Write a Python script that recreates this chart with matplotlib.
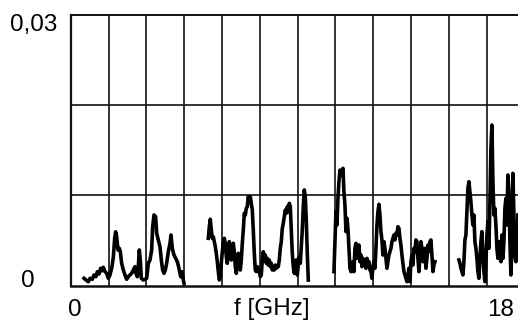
import numpy as np
import matplotlib
matplotlib.use("Agg")
import matplotlib.pyplot as plt

plt.rcParams['font.family'] = ['Liberation Sans', 'DejaVu Sans']

# ---- data (frequency in GHz, amplitude in units of 1e-3) ----
seg1_f = [0.563, 0.647, 0.746, 0.817, 0.915, 0.986, 1.070, 1.127, 1.197, 1.268,
          1.324, 1.380, 1.451, 1.522, 1.592, 1.662, 1.747, 1.803, 1.860, 1.902,
          1.945, 2.001, 2.057, 2.099, 2.156, 2.226, 2.297, 2.368, 2.438, 2.508,
          2.579, 2.649, 2.720, 2.762, 2.819, 2.861, 2.903, 2.945, 2.988, 3.072,
          3.143, 3.214, 3.284, 3.355, 3.425, 3.467, 3.524, 3.594, 3.637, 3.707,
          3.777, 3.834, 3.890, 3.947, 4.003, 4.060, 4.130, 4.201, 4.243, 4.299,
          4.370, 4.440, 4.511, 4.581, 4.652, 4.708, 4.764, 4.793]
seg1_v = [0.82, 0.63, 0.44, 0.82, 0.71, 1.19, 1.00, 1.55, 1.30, 1.93,
          1.66, 2.04, 1.55, 1.37, 0.82, 1.19, 2.11, 3.15, 5.25, 5.98,
          5.43, 3.96, 4.14, 3.77, 2.48, 1.74, 1.19, 0.71, 1.00, 1.19,
          1.37, 1.74, 2.11, 1.37, 1.00, 2.11, 3.96, 2.85, 0.82, 0.63,
          0.71, 0.82, 2.48, 2.85, 3.96, 6.54, 7.84, 7.65, 5.81, 5.06,
          4.32, 2.85, 1.74, 1.37, 1.74, 2.48, 3.77, 4.70, 5.62, 4.14,
          3.40, 3.04, 2.66, 1.93, 1.00, 1.55, 0.63, 0.27]

seg2_range = (5.822, 10.052)
seg2_v = [5.25, 6.54, 7.36, 6.17, 5.25, 5.43, 4.88, 4.33, 3.59, 2.66,
          1.56, 0.63, 1.00, 2.48, 3.77, 4.88, 5.25, 4.70, 3.22, 2.48,
          3.96, 4.88, 4.14, 2.85, 3.59, 4.70, 3.77, 2.11, 1.37, 2.48,
          3.59, 2.85, 1.74, 2.85, 4.70, 6.17, 8.02, 7.83, 8.57, 8.76,
          9.87, 9.50, 9.87, 9.13, 8.39, 6.17, 3.59, 1.74, 1.56, 2.11,
          1.56, 1.74, 1.00, 1.19, 2.85, 3.77, 3.03, 3.40, 2.48, 3.03,
          2.29, 2.85, 2.11, 2.48, 1.74, 2.11, 1.74, 2.29, 1.92, 2.18,
          2.11, 2.85, 4.14, 4.88, 6.36, 6.91, 7.65, 8.39, 8.02, 8.76,
          8.20, 9.13, 8.76, 6.17, 3.59, 2.11, 1.37, 1.92, 2.85, 1.19,
          2.29, 3.22, 2.48, 4.33, 6.17, 8.76, 10.61, 9.87, 7.28, 3.59,
          0.63]

seg3_range = (11.138, 15.410)
seg3_v = [1.56, 4.88, 8.21, 6.73, 9.68, 11.53, 12.82, 12.27, 12.64, 13.01,
          10.42, 8.94, 5.99, 7.47, 6.36, 4.14, 1.93, 1.56, 1.74, 2.66,
          1.56, 4.14, 4.70, 3.03, 4.14, 4.51, 2.66, 3.40, 2.11, 3.03,
          2.66, 2.85, 1.93, 3.03, 2.29, 2.66, 1.74, 1.56, 0.82, 2.11,
          2.66, 1.93, 4.14, 6.73, 8.21, 9.02, 7.84, 5.99, 5.07, 3.40,
          4.88, 4.14, 3.03, 1.93, 2.66, 3.40, 3.77, 4.14, 4.88, 5.25,
          5.62, 5.07, 5.81, 5.62, 6.54, 6.36, 5.25, 4.51, 3.40, 2.48,
          1.56, 1.19, 0.82, 0.45, 1.19, 1.93, 0.45, 2.66, 3.40, 2.29,
          4.14, 3.77, 5.07, 4.88, 3.03, 1.56, 3.40, 4.88, 4.14, 2.66,
          3.40, 4.14, 1.93, 3.03, 4.51, 3.77, 4.88, 5.07, 3.40, 1.56,
          2.29, 2.66]

seg4_range = (16.425, 18.921)
seg4_v = [2.85, 2.48, 1.93, 1.56, 1.19, 2.66, 5.07, 5.62, 8.21, 10.79,
          11.53, 10.42, 9.31, 7.84, 6.73, 7.84, 4.88, 4.14, 3.03, 1.56,
          0.82, 3.03, 4.88, 5.99, 3.40, 1.56, 0.45, 2.66, 5.62, 7.10,
          4.14, 9.31, 15.22, 17.81, 11.53, 7.84, 8.57, 6.73, 4.14, 3.03,
          4.88, 3.40, 2.66, 5.62, 3.03, 4.88, 8.57, 9.68, 6.73, 12.27,
          10.42, 4.88, 1.19, 4.14, 12.45, 7.84, 3.40, 2.66, 4.14, 7.84]

x_ticks = [0, 18]
x_tick_labels = ["0", "18"]
y_tick_labels = ["0", "0,03"]
x_label = "f [GHz]"
grid_step_f = 1.6      # GHz between vertical grid lines
grid_step_v = 0.01

# ---- figure ----
W, H = 518, 320
fig = plt.figure(figsize=(W / 100, H / 100), dpi=100)
ax_left, ax_right, ax_top, ax_bottom = 70.7, 524.5, 15.0, 285.7
ax = fig.add_axes([ax_left / W, 1 - ax_bottom / H,
                   (ax_right - ax_left) / W, (ax_bottom - ax_top) / H])
ax.set_xlim(0, 12 * grid_step_f)
ax.set_ylim(0, 0.03)

for xg in np.arange(1, 12) * grid_step_f:
    ax.axvline(xg, color='#111111', lw=1.2, zorder=1)
for yg in [0.01, 0.02]:
    ax.axhline(yg, color='#111111', lw=1.2, zorder=1)

segments = [
    (np.array(seg1_f), np.array(seg1_v)),
    (np.linspace(*seg2_range, len(seg2_v)), np.array(seg2_v)),
    (np.linspace(*seg3_range, len(seg3_v)), np.array(seg3_v)),
    (np.linspace(*seg4_range, len(seg4_v)), np.array(seg4_v)),
]
for f, v in segments:
    ax.plot(f, v * 1e-3, color='black', lw=2.6, solid_joinstyle='round',
            zorder=3, clip_on=True)

ax.set_xticks([])
ax.set_yticks([])
for side in ['right']:
    ax.spines[side].set_visible(False)
ax.spines['left'].set_linewidth(1.6)
ax.spines['bottom'].set_linewidth(1.8)
ax.spines['top'].set_linewidth(1.4)
for s in ax.spines.values():
    s.set_color('#111111')

fs = 17.5
# y labels
fig.text(10 / W, 1 - 31.5 / H, y_tick_labels[1], fontsize=fs, ha='left', va='baseline')
fig.text(27.5 / W, 1 - 287 / H, y_tick_labels[0], fontsize=fs, ha='center', va='baseline')
# x labels
px_per_ghz = (ax_right - ax_left) / (12 * grid_step_f)
for xt, lab in zip(x_ticks, x_tick_labels):
    xpix = ax_left + xt * px_per_ghz + 4
    fig.text(xpix / W, 1 - 315.5 / H, lab, fontsize=fs, ha='center', va='baseline')
fig.text(272 / W, 1 - 315.5 / H, x_label, fontsize=fs, ha='center', va='baseline')

fig.savefig("out.png", dpi=100, facecolor='white')
